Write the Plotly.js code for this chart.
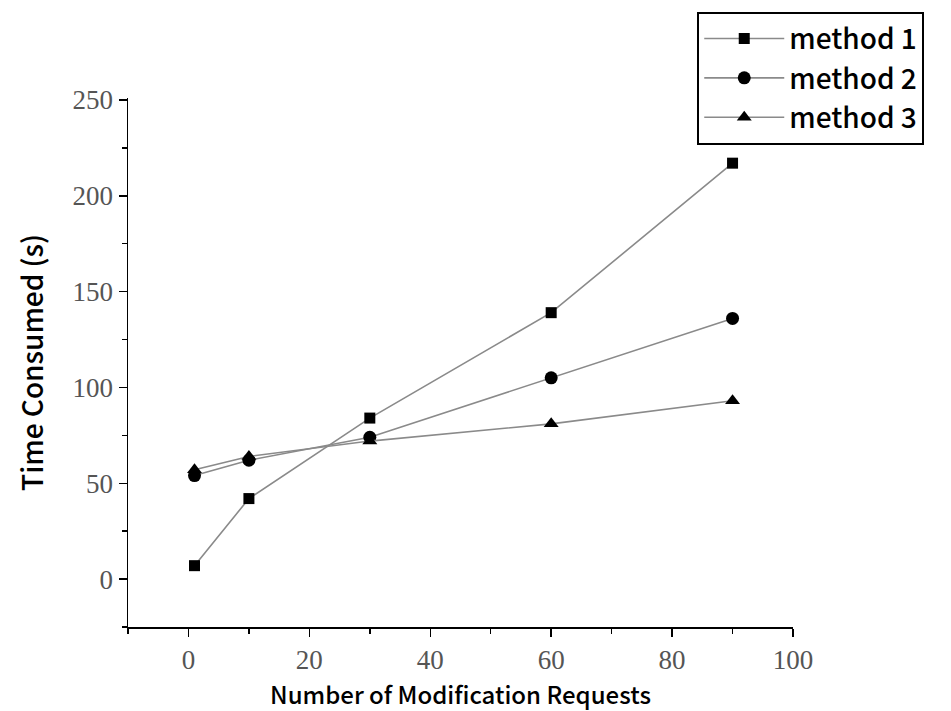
<!DOCTYPE html>
<html>
<head>
<meta charset="utf-8">
<script src="https://cdn.plot.ly/plotly-3.0.1.min.js"></script>
<style>html,body{margin:0;padding:0;background:#fff;}#chart{width:951px;height:711px;}</style>
</head>
<body>
<div id="chart"></div>
<script>
const requests = [1, 10, 30, 60, 90];
const method1 = [7, 42, 84, 139, 217];
const method2 = [54, 62, 74, 105, 136];
const method3 = [57, 64, 72, 81, 93];
const seriesNames = ['method 1', 'method 2', 'method 3'];
const xTicks = [0, 20, 40, 60, 80, 100];
const yTicks = [0, 50, 100, 150, 200, 250];

const symbols = ['square', 'circle', 'triangle-up'];
const sizes = [11, 13, 13];
const traces = [method1, method2, method3].map((ys, i) => ({
  x: requests, y: ys, name: seriesNames[i], type: 'scatter', mode: 'lines+markers',
  line: {color: '#8a8a8a', width: 1.6},
  marker: {symbol: symbols[i], size: sizes[i], color: '#000'}
}));

const layout = {
  width: 951, height: 711,
  margin: {l: 128, r: 158, t: 93, b: 84},
  paper_bgcolor: '#fff', plot_bgcolor: '#fff',
  showlegend: true,
  legend: {
    x: 0.856, y: 1.163, xanchor: 'left', yanchor: 'top',
    bordercolor: '#000', borderwidth: 2, bgcolor: '#fff',
    font: {family: 'Noto Sans CJK SC', size: 28, color: '#000', weight: 500},
    itemwidth: 80, tracegroupgap: 0
  },
  xaxis: {
    range: [-10, 100], tickvals: xTicks, ticks: 'outside', ticklen: 8, tickwidth: 1.5,
    tickcolor: '#000', showline: true, linecolor: '#000', linewidth: 1.5,
    showgrid: false, zeroline: false,
    minor: {dtick: 10, ticks: 'outside', ticklen: 5, tickcolor: '#000', tickwidth: 1.5, showgrid: false},
    tickfont: {family: 'Liberation Serif', size: 27, color: '#555'},
    title: {text: 'Number of Modification Requests', font: {family: 'Noto Sans CJK SC', size: 24, color: '#000', weight: 500}, standoff: 13}
  },
  yaxis: {
    range: [-25, 251], tickvals: yTicks, ticks: 'outside', ticklen: 8, tickwidth: 1.5,
    tickcolor: '#000', showline: true, linecolor: '#000', linewidth: 1.5,
    showgrid: false, zeroline: false,
    minor: {dtick: 25, ticks: 'outside', ticklen: 5, tickcolor: '#000', tickwidth: 1.5, showgrid: false},
    tickfont: {family: 'Liberation Serif', size: 27, color: '#555'},
    title: {text: 'Time Consumed (s)', font: {family: 'Noto Sans CJK SC', size: 28, color: '#000', weight: 500}, standoff: 21}
  }
};

Plotly.newPlot('chart', traces, layout, {displayModeBar: false, staticPlot: true});
</script>
</body>
</html>
